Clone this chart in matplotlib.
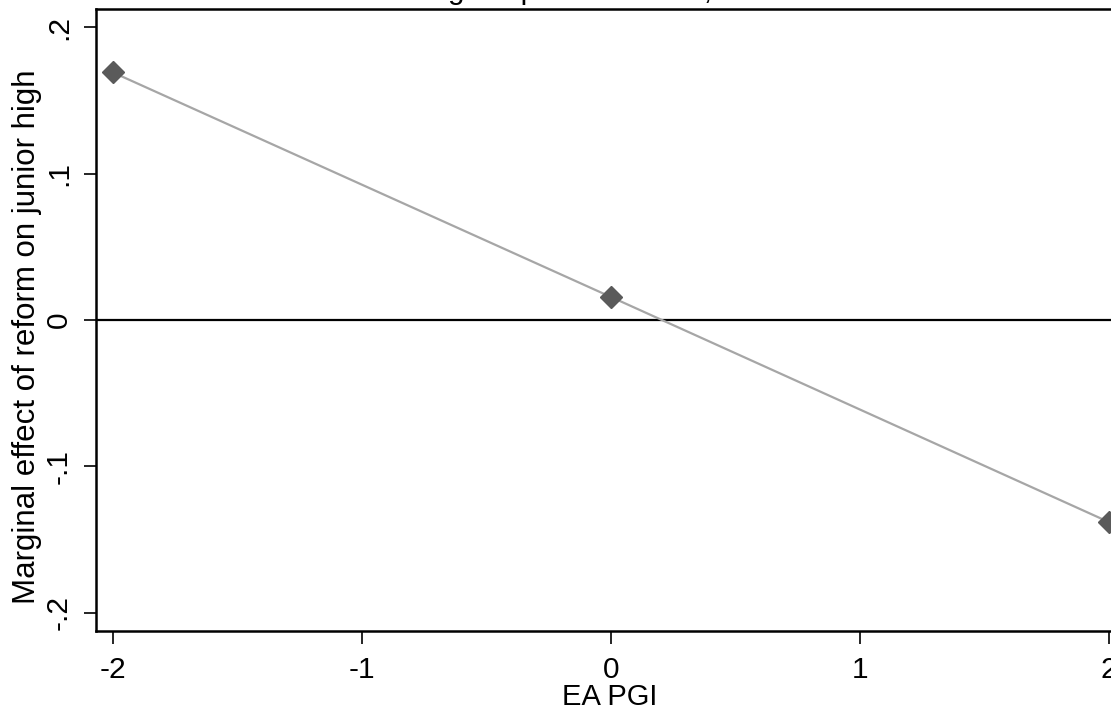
import matplotlib
matplotlib.use("Agg")
from matplotlib import pyplot as plt

plt.rcParams['font.family'] = ['Liberation Sans', 'DejaVu Sans']

# data
ea_pgi = [-2, 0, 2]
marginal_effect = [0.169, 0.0157, -0.138]
x_ticks = [-2, -1, 0, 1, 2]
y_ticks = [-0.2, -0.1, 0, 0.1, 0.2]
y_tick_labels = ['-.2', '-.1', '0', '.1', '.2']

W, H = 1111, 712
fig = plt.figure(figsize=(W / 100, H / 100), dpi=100)
# axes box in pixels: left 96, right 1126, top 9, bottom 631
ax = fig.add_axes([96 / W, (H - 631) / H, 1030 / W, 622 / H])

ax.axhline(0, color='black', linewidth=1.6, zorder=1)
ax.plot(ea_pgi, marginal_effect, color='#a6a6a6', linewidth=1.6, zorder=2)
ax.plot(ea_pgi, marginal_effect, linestyle='none', marker='D', markersize=11,
        color='#5a5a5a', zorder=3, clip_on=False)

ax.set_xlim(-2.068, 2.068)
ax.set_ylim(-0.2123, 0.2123)
ax.set_xticks(x_ticks)
ax.set_xticklabels([str(t) for t in x_ticks])
ax.set_yticks(y_ticks)
ax.set_yticklabels(y_tick_labels, rotation=90, va='center')

ax.tick_params(axis='both', direction='out', length=9, width=1.2, colors='black',
               labelsize=21.5)
ax.tick_params(axis='x', pad=9)
ax.tick_params(axis='y', pad=7.5)
for side in ['top', 'right', 'left', 'bottom']:
    ax.spines[side].set_linewidth(1.8)
    ax.spines[side].set_color('black')

ax.set_xlabel('EA PGI', fontsize=21, va='center')
ax.xaxis.set_label_coords(0.4985, (H - 697 - 81) / 622)
ax.set_ylabel('Marginal effect of reform on junior high', fontsize=22.5, va='center')
ax.yaxis.set_label_coords((27 - 96) / 1030, (H - 337 - 81) / 622)

# title sits mostly above the cropped picture, only its bottom edge shows
title = 'Average impact of reform, with 95% CIs'
fs = 21.3
renderer = fig.canvas.get_renderer()
probe = fig.text(0, 0, 'Avera', fontsize=fs)
pre_w = probe.get_window_extent(renderer).width
probe.remove()
fig.text((448 - pre_w) / W, 1.0014, title, fontsize=fs, ha='left', va='baseline')

fig.savefig('out.png', dpi=100)
plt.close(fig)
